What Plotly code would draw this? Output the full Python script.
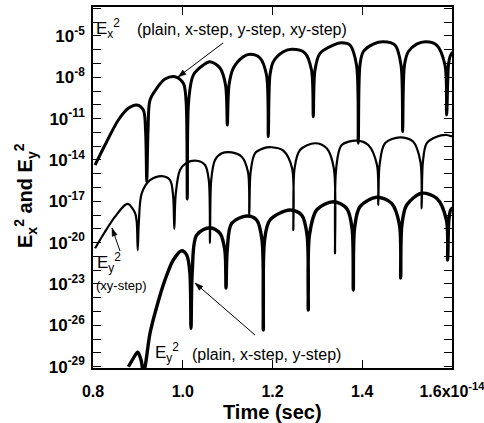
import math
import plotly.graph_objects as go

# ---- data (time in units of 1e-14 s, field exponents log10(E^2)) ----
ex_time = [0.8045, 0.8267, 0.8564, 0.8787, 0.8974, 0.9121, 0.9170, 0.9197, 0.9226, 0.9270,
           0.9420, 0.9604, 0.9827, 1.0012, 1.0072, 1.0101, 1.0133, 1.0235, 1.0458, 1.0607,
           1.0830, 1.0953, 1.0993, 1.1031, 1.1126, 1.1349, 1.1499, 1.1721, 1.1866, 1.1906,
           1.1944, 1.2018, 1.2241, 1.2428, 1.2724, 1.2869, 1.2909, 1.2947, 1.3058, 1.3355,
           1.3542, 1.3727, 1.3872, 1.3912, 1.3950, 1.4023, 1.4246, 1.4469, 1.4730, 1.4864,
           1.4901, 1.4942, 1.5026, 1.5213, 1.5421, 1.5659, 1.5844, 1.5882, 1.5922, 1.5956,
           1.6011]
ex_exp = [-14.37, -12.92, -11.10, -10.25, -10.01, -10.38, -11.83, -15.58, -11.83, -9.65,
          -8.80, -8.13, -7.96, -8.44, -9.65, -16.84, -9.65, -7.84, -7.11, -6.87,
          -7.33, -8.56, -11.47, -8.56, -7.35, -6.51, -6.33, -6.60, -7.84, -12.31,
          -7.84, -6.87, -6.15, -5.97, -6.24, -7.47, -10.86, -7.47, -6.26, -5.66,
          -5.49, -5.66, -7.11, -12.79, -7.11, -6.15, -5.59, -5.42, -5.66, -7.11,
          -11.95, -7.11, -6.15, -5.59, -5.42, -5.66, -7.11, -10.74, -7.11, -6.51,
          -6.17]

ey_xy_time = [0.8045, 0.8267, 0.8490, 0.8713, 0.8787, 0.8936, 0.8974, 0.8996, 0.9021, 0.9085,
              0.9270, 0.9531, 0.9716, 0.9783, 0.9812, 0.9841, 0.9939, 1.0088, 1.0311, 1.0496,
              1.0580, 1.0607, 1.0634, 1.0719, 1.0868, 1.1091, 1.1314, 1.1454, 1.1483, 1.1512,
              1.1610, 1.1795, 1.1982, 1.2241, 1.2435, 1.2464, 1.2493, 1.2613, 1.2947, 1.3208,
              1.3366, 1.3393, 1.3420, 1.3542, 1.3876, 1.4135, 1.4329, 1.4358, 1.4387, 1.4507,
              1.4841, 1.5138, 1.5298, 1.5325, 1.5352, 1.5436, 1.5659, 1.5882, 1.6000]
ey_xy_exp = [-20.41, -19.21, -18.12, -17.27, -17.20, -17.85, -18.50, -20.54, -18.50, -16.42,
             -15.46, -15.17, -15.46, -16.55, -19.01, -16.55, -14.73, -14.20, -14.06, -14.37,
             -15.46, -20.03, -15.46, -14.01, -13.52, -13.45, -13.77, -14.88, -18.00, -14.88,
             -13.52, -13.16, -13.08, -13.33, -14.59, -19.09, -14.59, -13.28, -12.79, -13.16,
             -14.59, -20.78, -14.59, -12.92, -12.60, -12.92, -14.37, -17.27, -14.37, -12.79,
             -12.36, -12.68, -14.15, -17.51, -14.15, -12.79, -12.31, -12.19, -12.30]

ey_time = [0.8787, 0.8898, 0.8996, 0.9070, 0.9121, 0.9159, 0.9270, 0.9420, 0.9604, 0.9789,
           0.9977, 1.0088, 1.0157, 1.0184, 1.0211, 1.0311, 1.0607, 1.0830, 1.0937, 1.0964,
           1.0991, 1.1091, 1.1425, 1.1648, 1.1766, 1.1795, 1.1824, 1.1944, 1.2390, 1.2651,
           1.2770, 1.2797, 1.2824, 1.2985, 1.3355, 1.3653, 1.3772, 1.3801, 1.3830, 1.3950,
           1.4322, 1.4656, 1.4830, 1.4857, 1.4884, 1.4991, 1.5325, 1.5659, 1.5877, 1.5904,
           1.5931, 1.5971, 1.6016]
ey_exp = [-29.01, -28.40, -27.95, -28.52, -29.39, -29.01, -26.58, -24.65, -22.71, -21.26,
          -20.59, -20.90, -22.13, -26.22, -22.13, -19.45, -18.92, -19.33, -20.54, -23.29,
          -20.54, -18.60, -18.07, -18.36, -19.81, -26.34, -19.81, -18.36, -17.63, -18.00,
          -19.45, -24.89, -19.45, -17.63, -17.03, -17.51, -18.94, -23.44, -18.94, -17.39,
          -16.71, -17.15, -18.72, -22.57, -18.72, -17.27, -16.42, -16.78, -18.36, -21.26,
          -18.36, -17.63, -17.49]

x_tickvals = [0.8, 1.0, 1.2, 1.4, 1.6]
x_ticktext = ["0.8", "1.0", "1.2", "1.4", "1.6x10<sup>-14</sup>"]
y_minor_decades = list(range(-29, -2))
y_label_decades = [-29, -26, -23, -20, -17, -14, -11, -8, -5]

FONT = "Liberation Sans, Arial, Helvetica, sans-serif"

fig = go.Figure()
fig.add_trace(go.Scatter(x=ex_time, y=[10 ** e for e in ex_exp], mode="lines",
                         line=dict(color="black", width=3, shape="spline", smoothing=0.9),
                         showlegend=False))
fig.add_trace(go.Scatter(x=ey_xy_time, y=[10 ** e for e in ey_xy_exp], mode="lines",
                         line=dict(color="black", width=2.2, shape="spline", smoothing=0.9),
                         showlegend=False))
fig.add_trace(go.Scatter(x=ey_time, y=[10 ** e for e in ey_exp], mode="lines",
                         line=dict(color="black", width=3.4, shape="spline", smoothing=0.9),
                         showlegend=False))

ytv = [10.0 ** d for d in y_label_decades]
ytt = ["10<sup>%d</sup>" % d for d in y_label_decades]
ymv = [10.0 ** d for d in y_minor_decades]

fig.update_layout(
    width=484, height=423,
    margin=dict(l=93, r=32, t=7, b=55, pad=0, autoexpand=False),
    paper_bgcolor="white", plot_bgcolor="white",
    font=dict(family=FONT, color="black"),
    xaxis=dict(range=[0.7999, 1.6001], tickmode="array", tickvals=x_tickvals, ticktext=x_ticktext,
               ticks="inside", ticklen=8, tickwidth=1.2, tickcolor="black",
               showline=True, linecolor="black", linewidth=1.5, mirror="ticks",
               showgrid=False, zeroline=False, ticklabelstandoff=8,
               ticklabeloverflow="allow", automargin=False,
               tickfont=dict(size=16, weight="bold", family=FONT)),
    yaxis=dict(type="log", range=[-29.1, -2.9], tickmode="array", tickvals=ytv, ticktext=ytt,
               ticks="inside", ticklen=8, tickwidth=1.2, tickcolor="black",
               showline=True, linecolor="black", linewidth=1.5, mirror="ticks",
               showgrid=False, zeroline=False, ticklabelstandoff=3,
               ticklabeloverflow="allow", automargin=False,
               tickfont=dict(size=17, weight="bold", family=FONT),
               minor=dict(tickmode="array", tickvals=ymv, ticks="inside", ticklen=8,
                          tickwidth=1.2, tickcolor="black", showgrid=False)),
)

W, H, L, T = 359.0, 361.0, 93.0, 7.0


def px(xp):
    return (xp - L) / W


def py(yp):
    return (T + H - yp) / H


annos = [
    dict(x=px(96), y=py(29), text="E<sub>x</sub><sup>2</sup>", xanchor="left",
         yanchor="middle", font=dict(size=17)),
    dict(x=px(137), y=py(30), text="(plain, x-step, y-step, xy-step)", xanchor="left",
         yanchor="middle", font=dict(size=16)),
    dict(x=px(97), y=py(262), text="E<sub>y</sub><sup>2</sup>", xanchor="left",
         yanchor="middle", font=dict(size=17)),
    dict(x=px(96), y=py(285), text="(xy-step)", xanchor="left",
         yanchor="middle", font=dict(size=13)),
    dict(x=px(155), y=py(352), text="E<sub>y</sub><sup>2</sup>", xanchor="left",
         yanchor="middle", font=dict(size=17)),
    dict(x=px(192), y=py(354), text="(plain, x-step, y-step)", xanchor="left",
         yanchor="middle", font=dict(size=16)),
    dict(x=px(272), y=py(412), text="Time (sec)", xanchor="center", yanchor="middle",
         font=dict(size=20, weight="bold")),
    dict(x=px(25), y=py(196), text="E<sub>x</sub><sup>2</sup> and E<sub>y</sub><sup>2</sup>",
         textangle=-90, xanchor="center", yanchor="middle",
         font=dict(size=20, weight="bold")),
]

for a in annos:
    a["showarrow"] = False
    a["xref"] = "paper"
    a["yref"] = "paper"
    a["borderpad"] = 0
    a["borderwidth"] = 0
    fnt = a.get("font", {})
    fnt.setdefault("family", FONT)
    fnt.setdefault("color", "black")
    a["font"] = fnt
    fig.add_annotation(**a)

# arrows as shapes: (head x, head y, tail x, tail y) in pixels
arrows = [(178, 77, 223, 43), (112, 228, 120, 251), (195, 283, 255, 335)]
for hx, hy, tx, ty in arrows:
    fig.add_shape(type="line", xref="paper", yref="paper",
                  x0=px(tx), y0=py(ty), x1=px(hx), y1=py(hy),
                  line=dict(color="black", width=1))
    dx, dy = hx - tx, hy - ty
    n = math.hypot(dx, dy)
    ux, uy = dx / n, dy / n
    bx, by = hx - 8 * ux, hy - 8 * uy
    nx, ny = -uy, ux
    p1 = (bx + 2.6 * nx, by + 2.6 * ny)
    p2 = (bx - 2.6 * nx, by - 2.6 * ny)
    path = "M %f %f L %f %f L %f %f Z" % (px(hx), py(hy), px(p1[0]), py(p1[1]),
                                         px(p2[0]), py(p2[1]))
    fig.add_shape(type="path", xref="paper", yref="paper", path=path,
                  fillcolor="black", line=dict(color="black", width=0.5))

fig.write_html("out.html")
